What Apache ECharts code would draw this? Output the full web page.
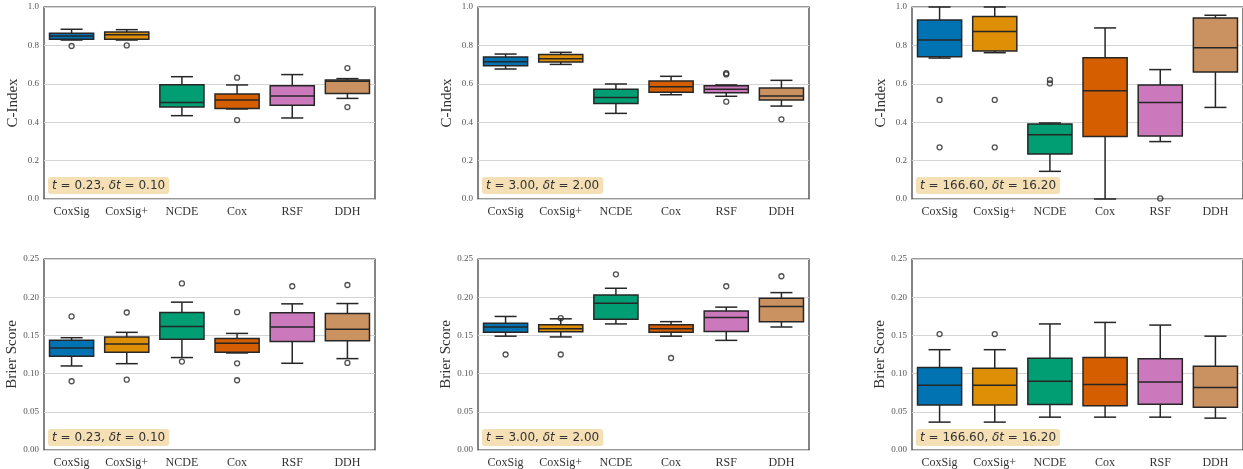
<!DOCTYPE html>
<html>
<head>
<meta charset="utf-8">
<script src="https://cdn.jsdelivr.net/npm/echarts@6/dist/echarts.min.js"></script>
<style>html,body{margin:0;padding:0;background:#fff}#c{width:1243px;height:469px}</style>
</head>
<body>
<div id="c"></div>
<script>
// ---- data ----
const categories = ['CoxSig', 'CoxSig+', 'NCDE', 'Cox', 'RSF', 'DDH'];
const palette = ['#0173b2', '#de8f05', '#029e73', '#d55e00', '#cc78bc', '#ca9161'];

// box stats: [whiskerLow, q1, median, q3, whiskerHigh]
const cindexT1 = [[0.828,0.832,0.849,0.863,0.884],[0.828,0.832,0.856,0.870,0.882],[0.434,0.479,0.502,0.595,0.637],[0.469,0.472,0.516,0.547,0.594],[0.422,0.488,0.536,0.590,0.648],[0.524,0.550,0.613,0.620,0.627]];
const cindexT1Out = [[0.797],[0.800],[],[0.632,0.411],[],[0.682,0.479]];
const cindexT2 = [[0.677,0.694,0.715,0.740,0.755],[0.701,0.714,0.731,0.752,0.764],[0.446,0.497,0.528,0.571,0.599],[0.543,0.556,0.585,0.615,0.639],[0.535,0.554,0.571,0.590,0.594],[0.484,0.516,0.536,0.578,0.618]];
const cindexT2Out = [[],[],[],[],[0.655,0.649,0.507],[0.415]];
const cindexT3 = [[0.734,0.741,0.828,0.932,1.0],[0.762,0.771,0.872,0.951,1.0],[0.144,0.234,0.335,0.391,0.396],[0.0,0.325,0.564,0.736,0.891],[0.299,0.328,0.502,0.594,0.674],[0.477,0.661,0.788,0.943,0.957]];
const cindexT3Out = [[0.516,0.269],[0.516,0.269],[0.620,0.602],[],[0.003],[]];

const brierT1 = [[0.110,0.1226,0.1335,0.1435,0.147],[0.113,0.128,0.1387,0.148,0.154],[0.121,0.145,0.1617,0.180,0.1935],[0.127,0.128,0.1396,0.146,0.1526],[0.1135,0.142,0.161,0.1796,0.1913],[0.1196,0.143,0.158,0.1787,0.1917]];
const brierT1Out = [[0.1748,0.090],[0.180,0.092],[0.218,0.1157],[0.1804,0.1135,0.0913],[0.2143],[0.216,0.114]];
const brierT2 = [[0.149,0.154,0.161,0.166,0.1748],[0.148,0.1548,0.1587,0.164,0.1717],[0.165,0.171,0.192,0.203,0.2117],[0.149,0.154,0.1587,0.164,0.168],[0.1435,0.155,0.1735,0.182,0.187],[0.161,0.168,0.1878,0.1987,0.206]];
const brierT2Out = [[0.125],[0.1726,0.125],[0.230],[0.1204],[0.2143],[0.2274]];
const brierT3 = [[0.0365,0.059,0.0848,0.108,0.1313],[0.0365,0.059,0.0848,0.107,0.1313],[0.043,0.0596,0.090,0.120,0.165],[0.043,0.0578,0.0857,0.121,0.167],[0.043,0.060,0.089,0.1196,0.1635],[0.0417,0.056,0.0817,0.1096,0.149]];
const brierT3Out = [[0.1517],[0.1517],[],[],[],[]];

const annotT = ['0.23', '3.00', '166.60'];
const annotDt = ['0.10', '2.00', '16.20'];
const yNames = ['C-Index', 'Brier Score'];

// ---- layout ----
const colLeft = [44, 478, 912];
const rowTop = [7, 259];
const gw = 331, gh = 192;
const panels = [
  {row:0,col:0,box:cindexT1,out:cindexT1Out},
  {row:0,col:1,box:cindexT2,out:cindexT2Out},
  {row:0,col:2,box:cindexT3,out:cindexT3Out},
  {row:1,col:0,box:brierT1,out:brierT1Out},
  {row:1,col:1,box:brierT2,out:brierT2Out},
  {row:1,col:2,box:brierT3,out:brierT3Out}
];
const edge = '#262626';
const serif = '"Liberation Serif", "DejaVu Serif", serif';

function renderBox(params, api) {
  const i = api.value(0);
  const band = api.size([1, 0])[0];
  const bw = band * 0.8, cw = bw * 0.5;
  const x = api.coord([i, 0])[0];
  const yMin = api.coord([i, api.value(1)])[1];
  const yQ1 = api.coord([i, api.value(2)])[1];
  const yMed = api.coord([i, api.value(3)])[1];
  const yQ3 = api.coord([i, api.value(4)])[1];
  const yMax = api.coord([i, api.value(5)])[1];
  const ls = {stroke: edge, lineWidth: 1.5};
  return {type: 'group', children: [
    {type:'line', shape:{x1:x,y1:yQ1,x2:x,y2:yMin}, style:ls},
    {type:'line', shape:{x1:x-cw/2,y1:yMin,x2:x+cw/2,y2:yMin}, style:ls},
    {type:'line', shape:{x1:x,y1:yQ3,x2:x,y2:yMax}, style:ls},
    {type:'line', shape:{x1:x-cw/2,y1:yMax,x2:x+cw/2,y2:yMax}, style:ls},
    {type:'rect', shape:{x:x-bw/2,y:yQ3,width:bw,height:yQ1-yQ3}, style:{fill:palette[i],stroke:edge,lineWidth:1.5}},
    {type:'line', shape:{x1:x-bw/2,y1:yMed,x2:x+bw/2,y2:yMed}, style:ls}
  ]};
}

const grid = [], xAxis = [], yAxis = [], series = [], title = [];
panels.forEach((p, k) => {
  const top = rowTop[p.row], left = colLeft[p.col];
  grid.push({left: left, top: top, width: gw, height: gh, show: true, borderColor: '#333', borderWidth: 1.2, backgroundColor: '#fff'});
  xAxis.push({type: 'category', gridIndex: k, data: categories, boundaryGap: true,
    axisLine: {show: false}, axisTick: {show: false}, splitLine: {show: false},
    axisLabel: {fontFamily: serif, fontSize: 12, color: '#333', margin: 7, interval: 0}});
  const isC = p.row === 0;
  yAxis.push({type: 'value', gridIndex: k, min: 0, max: isC ? 1 : 0.25, interval: isC ? 0.2 : 0.05,
    name: yNames[p.row], nameLocation: 'middle', nameGap: 23,
    nameTextStyle: {fontFamily: serif, fontSize: 15, color: '#333'},
    axisLine: {show: false}, axisTick: {show: false},
    splitLine: {show: true, lineStyle: {color: '#d4d4d4', width: 1}},
    axisLabel: {fontFamily: serif, fontSize: 9, color: '#555', margin: 5,
      formatter: v => v.toFixed(isC ? 1 : 2)}});
  series.push({type: 'custom', xAxisIndex: k, yAxisIndex: k, renderItem: renderBox,
    encode: {x: 0, y: [1, 2, 3, 4, 5]},
    data: p.box.map((b, i) => [i].concat(b)), z: 2});
  const outData = [];
  p.out.forEach((arr, i) => arr.forEach(v => outData.push([i, v])));
  series.push({type: 'scatter', xAxisIndex: k, yAxisIndex: k, data: outData, symbol: 'circle', symbolSize: 5,
    itemStyle: {color: 'rgba(255,255,255,0)', borderColor: edge, borderWidth: 1.3}, z: 3});
  const rich = {fontFamily: '"DejaVu Sans", sans-serif', fontSize: 12, fontWeight: 'normal', color: '#333'};
  title.push({left: left + 4, top: top + gh - 22,
    text: '{i|t} = ' + annotT[p.col] + ', {i|δt} = ' + annotDt[p.col],
    backgroundColor: '#f5dfb5', borderRadius: 3, padding: [2, 4],
    textStyle: {fontFamily: rich.fontFamily, fontSize: 12, fontWeight: 'normal', color: '#333', lineHeight: 13,
      rich: {i: Object.assign({fontStyle: 'italic', lineHeight: 13}, rich)}}});
});

const chart = echarts.init(document.getElementById('c'), null, {renderer: 'canvas'});
chart.setOption({animation: false, backgroundColor: '#fff', title, grid, xAxis, yAxis, series});
</script>
</body>
</html>
